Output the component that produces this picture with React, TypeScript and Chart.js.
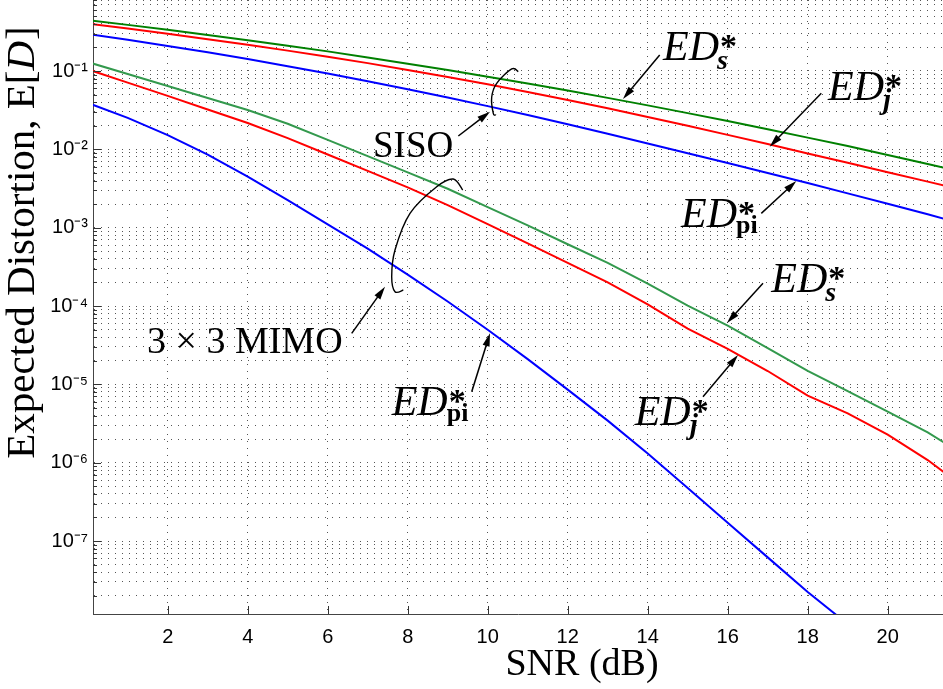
import React, { useEffect, useRef } from "react";
import { Chart, registerables } from "chart.js";

Chart.register(...registerables);

// ---------------- data ----------------
const snrDb = [0, 1, 2, 3, 4, 5, 6, 7, 8, 9, 10, 11, 12, 13, 14, 15, 16, 17, 18, 19, 20, 21, 22];

// SISO
const sisoEDs = [0.445, 0.388, 0.336, 0.289, 0.247, 0.21, 0.178, 0.149, 0.124, 0.103, 0.0847, 0.0693, 0.0563, 0.0454, 0.0364, 0.029, 0.023, 0.0181, 0.0141, 0.011, 0.00847, 0.0065, 0.00495];
const sisoEDj = [0.403, 0.348, 0.299, 0.255, 0.216, 0.182, 0.152, 0.126, 0.1033, 0.0839, 0.0676, 0.054, 0.0427, 0.0334, 0.0259, 0.02, 0.0153, 0.01167, 0.00887, 0.00673, 0.00511, 0.00387, 0.00294];
const sisoEDpi = [0.297, 0.25, 0.209, 0.173, 0.142, 0.115, 0.0929, 0.0741, 0.0586, 0.0459, 0.0356, 0.0274, 0.0209, 0.0158, 0.0119, 0.00893, 0.00668, 0.00499, 0.00372, 0.00274, 0.00202, 0.00148, 0.00108];

// 3x3 MIMO
const mimoEDs = [0.13, 0.0914, 0.0643, 0.0452, 0.0318, 0.0212, 0.0132, 0.00818, 0.00509, 0.00314, 0.00183, 0.00107, 6.14e-4, 3.55e-4, 1.93e-4, 1.01e-4, 5.62e-5, 2.89e-5, 1.49e-5, 8.17e-6, 4.47e-6, 2.44e-6, 1.17e-6];
const mimoEDj = [0.105, 0.0711, 0.0481, 0.0323, 0.0217, 0.0139, 0.00859, 0.00531, 0.00327, 0.00194, 0.00111, 6.31e-4, 3.55e-4, 2.0e-4, 1.05e-4, 5.13e-5, 2.83e-5, 1.48e-5, 7.16e-6, 4.26e-6, 2.28e-6, 1.08e-6, 4.47e-7];
const mimoEDpi = [0.0391, 0.0252, 0.0152, 0.00855, 0.00449, 0.00225, 0.0011, 5.4e-4, 2.52e-4, 1.14e-4, 4.98e-5, 2.1e-5, 8.55e-6, 3.44e-6, 1.31e-6, 4.75e-7, 1.71e-7, 6.18e-8, 2.23e-8, 8.71e-9, 3.55e-9];

// axes
const xRange = [0.1325, 21.3825];
const yRange = [1.17e-8, 0.806];
const xTickValues = [2, 4, 6, 8, 10, 12, 14, 16, 18, 20];
const yTickDecades = [-8, -7, -6, -5, -4, -3, -2, -1];
const yTickMantissas = [1, 2, 3, 4, 5, 6, 7, 8, 9];

// annotations in data coordinates: [snr dB, log10(value)]
const arrowList = [
  { from: [14.3, -0.796], to: [13.3825, -1.357] },
  { from: [18.34, -1.285], to: [17.05, -1.966] },
  { from: [16.84, -2.817], to: [17.715, -2.404] },
  { from: [9.265, -1.83], to: [10.0575, -1.52] },
  { from: [6.6, -4.349], to: [7.4325, -3.754] },
  { from: [9.6, -5.094], to: [10.0575, -4.349] },
  { from: [16.8825, -3.71], to: [15.9825, -4.217] },
  { from: [15.3825, -5.158], to: [16.2575, -4.626] },
];
const bracketList = [
  [[10.765, -1.009], [10.6, -0.974], [10.225, -1.157], [10.1, -1.332], [10.14, -1.54], [10.2075, -1.562]],
  [[9.375, -2.519], [9.14, -2.379], [8.725, -2.477], [8.0575, -2.817], [7.6825, -3.285], [7.6, -3.626], [7.6825, -3.818], [7.89, -3.796]],
];
const edLabels = [
  { at: [14.3825, -0.86], sub: "s" },
  { at: [18.5075, -1.37], sub: "j" },
  { at: [14.8325, -2.992], sub: "pi" },
  { at: [7.6, -5.392], sub: "pi" },
  { at: [17.09, -3.821], sub: "s" },
  { at: [13.675, -5.519], sub: "j" },
];
const plainLabels = [
  { text: "SISO", at: [7.1325, -2.098], size: 37 },
  { text: "3 × 3 MIMO", at: [1.4825, -4.6], size: 38 },
];

const SERIF = '"Liberation Serif", "Times New Roman", Times, serif';
const SANS = '"Liberation Sans", Arial, Helvetica, sans-serif';

const SUP: Record<string, string> = {
  "-": "⁻", "0": "⁰", "1": "¹", "2": "²", "3": "³", "4": "⁴", "5": "⁵", "6": "⁶", "7": "⁷", "8": "⁸", "9": "⁹",
};

function toPoints(ys: number[]) {
  return ys.map((y, i) => ({ x: snrDb[i], y }));
}

function drawArrow(ctx: CanvasRenderingContext2D, x1: number, y1: number, x2: number, y2: number) {
  const a = Math.atan2(y2 - y1, x2 - x1);
  const L = 13;
  const W = 3.6;
  ctx.beginPath();
  ctx.moveTo(x1, y1);
  ctx.lineTo(x2 - (L - 2) * Math.cos(a), y2 - (L - 2) * Math.sin(a));
  ctx.stroke();
  ctx.beginPath();
  ctx.moveTo(x2, y2);
  ctx.lineTo(x2 - L * Math.cos(a) + W * Math.sin(a), y2 - L * Math.sin(a) - W * Math.cos(a));
  ctx.lineTo(x2 - L * Math.cos(a) - W * Math.sin(a), y2 - L * Math.sin(a) + W * Math.cos(a));
  ctx.closePath();
  ctx.fill();
}

function drawSmooth(ctx: CanvasRenderingContext2D, pts: number[][]) {
  ctx.beginPath();
  ctx.moveTo(pts[0][0], pts[0][1]);
  for (let i = 0; i < pts.length - 1; i++) {
    const p0 = pts[i - 1] || pts[i];
    const p1 = pts[i];
    const p2 = pts[i + 1];
    const p3 = pts[i + 2] || p2;
    ctx.bezierCurveTo(
      p1[0] + (p2[0] - p0[0]) / 6, p1[1] + (p2[1] - p0[1]) / 6,
      p2[0] - (p3[0] - p1[0]) / 6, p2[1] - (p3[1] - p1[1]) / 6,
      p2[0], p2[1]
    );
  }
  ctx.stroke();
}

function drawED(ctx: CanvasRenderingContext2D, x: number, y: number, sub: string) {
  ctx.textAlign = "left";
  ctx.textBaseline = "alphabetic";
  ctx.font = `italic 42px ${SERIF}`;
  ctx.fillText("ED", x, y);
  const w = ctx.measureText("ED").width;
  ctx.font = `bold 34px ${SERIF}`;
  ctx.fillText("*", x + w + 1, y - 3);
  if (sub === "pi") {
    ctx.font = `bold 26px ${SERIF}`;
    ctx.fillText("pi", x + w - 1, y + 6);
  } else if (sub === "s") {
    ctx.font = `bold italic 28px ${SERIF}`;
    ctx.fillText("s", x + w - 2, y + 9);
  } else {
    ctx.font = `bold italic 29px ${SERIF}`;
    ctx.fillText("j", x + w - 1, y + 9);
  }
}

const overlayPlugin = {
  id: "overlay",
  afterDraw(chart: any) {
    const { ctx, chartArea, scales } = chart;
    const X = (v: number) => scales.x.getPixelForValue(v);
    const Y = (e: number) => scales.y.getPixelForValue(Math.pow(10, e));
    ctx.save();

    // inward tick marks
    ctx.strokeStyle = "#333";
    ctx.lineWidth = 1;
    ctx.beginPath();
    for (const t of scales.x.ticks) {
      const p = Math.round(X(t.value)) + 0.5;
      ctx.moveTo(p, chartArea.bottom);
      ctx.lineTo(p, chartArea.bottom - 8);
    }
    for (const t of scales.y.ticks) {
      const e = Math.round(Math.log10(t.value));
      const isDecade = Math.abs(t.value / Math.pow(10, e) - 1) < 1e-6;
      const p = Math.round(scales.y.getPixelForValue(t.value)) + 0.5;
      ctx.moveTo(chartArea.left, p);
      ctx.lineTo(chartArea.left + (isDecade ? 8 : 4), p);
    }
    ctx.stroke();

    // axis titles
    ctx.fillStyle = "#000";
    ctx.textBaseline = "alphabetic";
    ctx.font = `38px ${SERIF}`;
    ctx.textAlign = "center";
    ctx.fillText("SNR (dB)", (chartArea.left + chartArea.right) / 2 + 64, chartArea.bottom + 61);

    ctx.save();
    ctx.translate(34, chartArea.top + 243);
    ctx.rotate(-Math.PI / 2);
    ctx.textAlign = "left";
    const f1 = `41px ${SERIF}`;
    const f2 = `italic 41px ${SERIF}`;
    ctx.font = f1;
    const wa = ctx.measureText("Expected Distortion, E[").width;
    const wc = ctx.measureText("]").width;
    ctx.font = f2;
    const wb = ctx.measureText("D").width;
    let sx = -(wa + wb + wc) / 2;
    ctx.font = f1;
    ctx.fillText("Expected Distortion, E[", sx, 0);
    sx += wa;
    ctx.font = f2;
    ctx.fillText("D", sx, 0);
    sx += wb + 1;
    ctx.font = f1;
    ctx.fillText("]", sx, 0);
    ctx.restore();

    // annotations
    ctx.strokeStyle = "#000";
    ctx.fillStyle = "#000";
    ctx.lineWidth = 1.5;
    for (const a of arrowList) {
      drawArrow(ctx, X(a.from[0]), Y(a.from[1]), X(a.to[0]), Y(a.to[1]));
    }
    ctx.lineWidth = 1.4;
    for (const b of bracketList) {
      drawSmooth(ctx, b.map((p) => [X(p[0]), Y(p[1])]));
    }
    for (const l of edLabels) {
      drawED(ctx, X(l.at[0]), Y(l.at[1]), l.sub);
    }
    ctx.textAlign = "left";
    for (const l of plainLabels) {
      ctx.font = `${l.size}px ${SERIF}`;
      ctx.fillText(l.text, X(l.at[0]), Y(l.at[1]));
    }
    ctx.restore();
  },
};

const gridCommon = {
  color: "#555",
  lineWidth: 1,
  drawTicks: false,
  borderDash: [1, 6],
};

export default function App() {
  const ref = useRef<HTMLCanvasElement | null>(null);

  useEffect(() => {
    if (!ref.current) return;
    const mk = (label: string, data: number[], color: string) => ({
      label,
      data: toPoints(data),
      borderColor: color,
      backgroundColor: color,
      borderWidth: 2,
      pointRadius: 0,
      tension: 0,
      fill: false,
    });
    const chart = new Chart(ref.current, {
      type: "line",
      data: {
        datasets: [
          mk("SISO ED*_s", sisoEDs, "#008000"),
          mk("SISO ED*_j", sisoEDj, "#ff0000"),
          mk("SISO ED*_pi", sisoEDpi, "#0000ff"),
          mk("3x3 MIMO ED*_s", mimoEDs, "#33994d"),
          mk("3x3 MIMO ED*_j", mimoEDj, "#ff0000"),
          mk("3x3 MIMO ED*_pi", mimoEDpi, "#0000ff"),
        ],
      },
      options: {
        animation: false,
        responsive: false,
        devicePixelRatio: 1,
        layout: { padding: 0 },
        plugins: { legend: { display: false }, tooltip: { enabled: false }, title: { display: false } },
        scales: {
          x: {
            type: "linear",
            min: xRange[0],
            max: xRange[1],
            bounds: "data",
            grid: gridCommon,
            border: { display: true, color: "#444", width: 1, dash: [1, 6] },
            afterBuildTicks: (scale: any) => {
              scale.ticks = xTickValues.map((v) => ({ value: v }));
            },
            afterFit: (scale: any) => {
              scale.height = 75;
              scale.paddingLeft = 0;
              scale.paddingRight = 0;
            },
            ticks: {
              autoSkip: false,
              maxRotation: 0,
              padding: 11,
              color: "#000",
              font: { family: SANS, size: 20 },
              callback: (v: any) => String(v),
            },
          },
          y: {
            type: "logarithmic",
            min: yRange[0],
            max: yRange[1],
            bounds: "data",
            grid: gridCommon,
            border: { display: true, color: "#444", width: 1, dash: [1, 6] },
            afterBuildTicks: (scale: any) => {
              const ts: any[] = [];
              for (const d of yTickDecades) {
                for (const m of yTickMantissas) {
                  const v = m * Math.pow(10, d);
                  if (v >= yRange[0] && v <= yRange[1]) ts.push({ value: v });
                }
              }
              scale.ticks = ts;
            },
            afterFit: (scale: any) => {
              scale.width = 93;
              scale.paddingTop = 0;
              scale.paddingBottom = 0;
            },
            ticks: {
              autoSkip: false,
              padding: 5,
              color: "#000",
              font: { family: SANS, size: 20 },
              callback: (value: any) => {
                const v = Number(value);
                const e = Math.round(Math.log10(v));
                if (Math.abs(v / Math.pow(10, e) - 1) < 1e-6) {
                  return "10" + String(e).split("").map((c) => SUP[c] || c).join("");
                }
                return "";
              },
            },
          },
        },
      },
      plugins: [overlayPlugin],
    } as any);
    return () => chart.destroy();
  }, []);

  return (
    <div style={{ position: "absolute", left: 0, top: 0, width: 943, height: 689, background: "#fff" }}>
      <canvas ref={ref} width={943} height={689} style={{ display: "block" }} />
    </div>
  );
}
